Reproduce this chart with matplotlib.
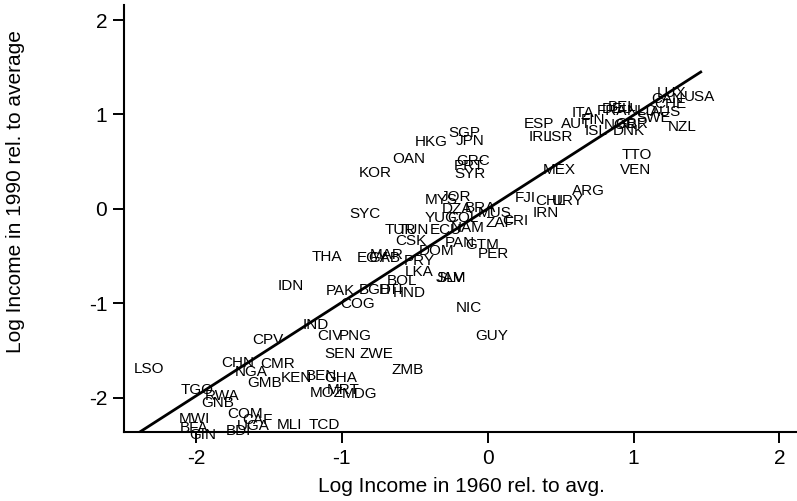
import matplotlib
matplotlib.use("Agg")
import matplotlib.pyplot as plt

plt.rcParams['font.family'] = ['Liberation Sans', 'DejaVu Sans']

countries = ["LUX", "USA", "CAN", "CHE", "BEL", "ITA", "FRA", "DEU", "NLD", "AUS",
             "FIN", "SWE", "AUT", "ESP", "ISL", "NOR", "GBR", "DNK", "NZL", "IRL",
             "ISR", "HKG", "SGP", "JPN", "OAN", "KOR", "GRC", "PRT", "SYR", "MEX",
             "TTO", "VEN", "ARG", "FJI", "CHL", "URY", "IRN", "MYS", "JOR", "DZA",
             "BRA", "MUS", "YUG", "COL", "ZAF", "CRI", "SYC", "TUR", "TUN", "ECU",
             "NAM", "CSK", "PAN", "GTM", "PER", "DOM", "THA", "MAR", "EGY", "GAB",
             "PRY", "LKA", "JAM", "SLV", "BOL", "IDN", "PAK", "BGD", "HTI", "HND",
             "COG", "NIC", "IND", "CIV", "PNG", "GUY", "CPV", "SEN", "ZWE", "CHN",
             "CMR", "LSO", "ZMB", "NGA", "KEN", "BEN", "GHA", "GMB", "MRT", "TGO",
             "MOZ", "MDG", "RWA", "GNB", "COM", "CAF", "MWI", "UGA", "MLI", "TCD",
             "BFA", "BDI", "GIN"]

income_1960 = [1.26, 1.45, 1.23, 1.25, 0.92, 0.65, 0.85, 0.89, 1.06, 1.22,
               0.72, 1.14, 0.61, 0.35, 0.74, 0.91, 0.99, 0.97, 1.33, 0.36,
               0.50, -0.39, -0.16, -0.12, -0.54, -0.77, -0.10, -0.13, -0.12, 0.49,
               1.02, 1.01, 0.69, 0.26, 0.43, 0.55, 0.40, -0.32, -0.22, -0.21,
               -0.05, 0.05, -0.32, -0.17, 0.08, 0.19, -0.84, -0.60, -0.51, -0.29,
               -0.14, -0.53, -0.19, -0.04, 0.04, -0.35, -1.10, -0.69, -0.79, -0.71,
               -0.47, -0.47, -0.25, -0.26, -0.59, -1.35, -1.01, -0.77, -0.66, -0.54,
               -0.89, -0.13, -1.18, -1.08, -0.91, 0.03, -1.51, -1.01, -0.76, -1.71,
               -1.44, -2.32, -0.55, -1.62, -1.31, -1.14, -1.01, -1.53, -0.99, -1.99,
               -1.10, -0.88, -1.82, -1.85, -1.66, -1.58, -2.01, -1.61, -1.36, -1.12,
               -2.01, -1.71, -1.95]

income_1990 = [1.24, 1.20, 1.18, 1.13, 1.10, 1.03, 1.05, 1.07, 1.05, 1.04,
               0.96, 0.98, 0.91, 0.91, 0.84, 0.90, 0.91, 0.84, 0.88, 0.78,
               0.78, 0.72, 0.82, 0.74, 0.54, 0.40, 0.52, 0.47, 0.39, 0.43,
               0.59, 0.43, 0.20, 0.13, 0.10, 0.10, -0.03, 0.11, 0.14, 0.01,
               0.02, -0.03, -0.08, -0.08, -0.13, -0.11, -0.04, -0.21, -0.21, -0.21,
               -0.19, -0.33, -0.35, -0.37, -0.46, -0.43, -0.49, -0.47, -0.51, -0.51,
               -0.54, -0.65, -0.72, -0.72, -0.75, -0.80, -0.86, -0.84, -0.84, -0.88,
               -0.99, -1.04, -1.21, -1.33, -1.33, -1.33, -1.37, -1.52, -1.52, -1.62,
               -1.63, -1.68, -1.69, -1.71, -1.78, -1.76, -1.78, -1.83, -1.90, -1.90,
               -1.94, -1.95, -1.97, -2.04, -2.16, -2.22, -2.21, -2.29, -2.28, -2.28,
               -2.31, -2.34, -2.38]

fit_x = [-2.38, 1.46]
fit_y = [-2.36, 1.45]

x_ticks = [-2, -1, 0, 1, 2]
y_ticks = [-2, -1, 0, 1, 2]

fig = plt.figure(figsize=(7.97, 5.01), dpi=100)
ax = fig.add_axes([0.1556, 0.1377, 0.8444, 0.8523])

for name, xv, yv in zip(countries, income_1960, income_1990):
    ax.text(xv, yv, name, ha='center', va='center_baseline', fontsize=11, color='black')

ax.plot(fit_x, fit_y, color='black', linewidth=2.0)

ax.set_xlim(-2.493, 2.12)
ax.set_ylim(-2.365, 2.16)
ax.set_xticks(x_ticks)
ax.set_yticks(y_ticks)
ax.set_xticklabels([str(t) for t in x_ticks])
ax.set_yticklabels([str(t) for t in y_ticks])

for s in ['top', 'right']:
    ax.spines[s].set_visible(False)
for s in ['left', 'bottom']:
    ax.spines[s].set_linewidth(1.5)

ax.tick_params(axis='both', direction='out', length=8, width=1.4, labelsize=15, pad=4)
ax.set_xlabel("Log Income in 1960 rel. to avg.", fontsize=15)
ax.set_ylabel("Log Income in 1990 rel. to average", fontsize=15)
ax.xaxis.set_label_coords(0.502, -0.105)
ax.yaxis.set_label_coords(-0.147, 0.564)

fig.savefig("out.png", dpi=100)
